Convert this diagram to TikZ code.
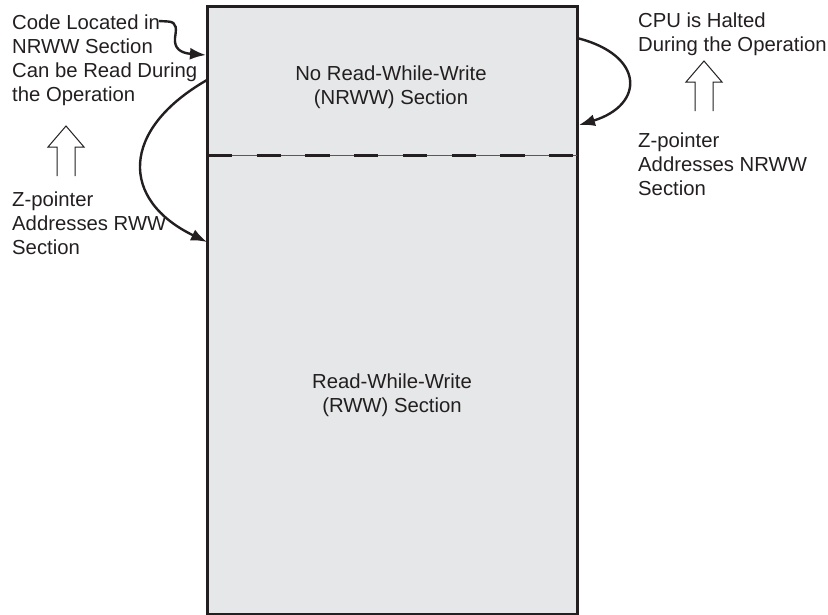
\documentclass[tikz,border=0pt]{standalone}
\usepackage{fontspec}
\setmainfont{Liberation Sans}
\usetikzlibrary{arrows.meta}

\definecolor{boxgrey}{HTML}{E6E7E8}
\definecolor{inkblack}{HTML}{231F20}

\tikzset{
  label text/.style={inner sep=0pt, align=left, text=inkblack,
    font=\fontsize{20.3}{24}\selectfont},
  flow/.style={line width=2.4pt, draw=inkblack, -{Latex[length=16pt,width=12pt]}},
  hollow up/.pic={
    \draw[line width=1pt, inkblack] (-9,50) -- (-9,21) -- (-18,21)
      -- (0,0) -- (18,21) -- (9,21) -- (9,50);}
}

\begin{document}
\begin{tikzpicture}[x=1pt,y=-1pt]
\useasboundingbox (0,0) rectangle (828,614);
\clip (0,0) rectangle (828,614);
% flash memory with its two sections
\draw[line width=3pt, draw=inkblack, fill=boxgrey] (207.5,6.5) rectangle (577,614.5);
\draw[line width=0.8pt, draw=black!65] (207.5,155) -- (577,155);
\draw[line width=3pt, draw=inkblack, dash pattern=on 24.3pt off 24.4pt] (208,155) -- (576,155);
\node[label text, align=center, anchor=north] (nrwwtxt) at (391,65.5) {No Read-While-Write\\(NRWW) Section};
\node[label text, align=center, anchor=north] (rwwtxt) at (392,373.5) {Read-While-Write\\(RWW) Section};

% left side
\node[label text, anchor=north west] (codetxt) at (12,14.5) {Code Located in\\NRWW Section\\Can be Read During\\the Operation};
\pic at (66,126) {hollow up};
\node[label text, anchor=north west] (zrww) at (12,191.5) {Z-pointer\\Addresses RWW\\Section};

% right side
\node[label text, anchor=north west] (cputxt) at (638,12.5) {CPU is Halted\\During the Operation};
\pic at (704,61) {hollow up};
\node[label text, anchor=north west] (znrww) at (638,132.5) {Z-pointer\\Addresses NRWW\\Section};

% ends of the curved arrows
\coordinate (codeend) at (159,21);
\coordinate (nrwwin) at (206,55);
\coordinate (nrwwout) at (207,80);
\coordinate (rwwin) at (207,242);
\coordinate (haltout) at (577,38);
\coordinate (haltin) at (579,125);

\draw[flow] (codeend) -- (168,21.5) .. controls (178,22) and (176,30) .. (175,38)
  .. controls (174,48) and (180,53) .. (nrwwin);
\draw[flow] (nrwwout) .. controls (120,130) and (120,200) .. (rwwin);
\draw[flow] (haltout) .. controls (645,55) and (645,105) .. (haltin);
\end{tikzpicture}
\end{document}
